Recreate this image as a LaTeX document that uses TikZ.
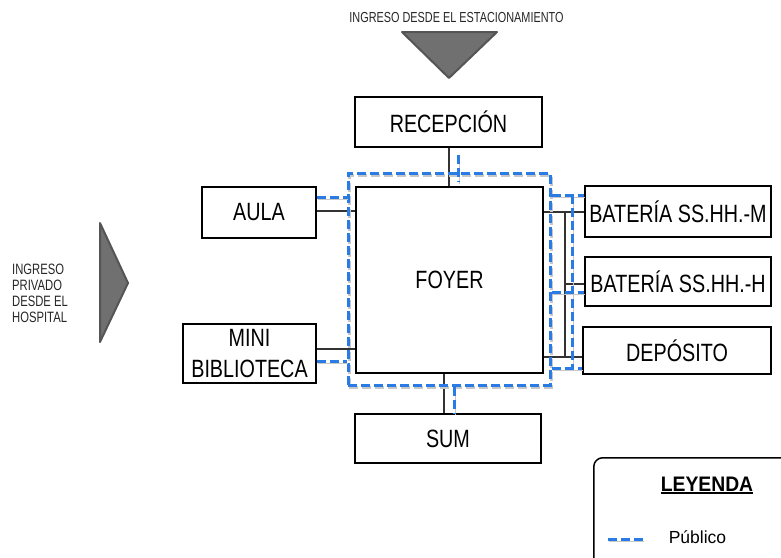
\documentclass[tikz,border=0pt]{standalone}
\usepackage{fontspec}
\setmainfont{Liberation Sans}
\newfontfamily\boxfont[FakeStretch=0.79]{Liberation Sans}
\newfontfamily\smallfont[FakeStretch=0.75]{Liberation Sans}
\newfontfamily\legfont[FakeStretch=0.92]{Liberation Sans}
\definecolor{pubblue}{HTML}{2B7BE4}
\definecolor{trifill}{HTML}{707070}
\definecolor{triedge}{HTML}{555555}
\definecolor{linkc}{HTML}{333333}
\begin{document}
\begin{tikzpicture}[x=1pt,y=-1pt,
  room/.style={draw=black, line width=1.5pt, fill=white, inner sep=0pt,
    font=\boxfont\fontsize{25}{31}\selectfont, align=center},
  link/.style={draw=linkc, line width=2pt},
  pub/.style={draw=pubblue, line width=3pt, dash pattern=on 9pt off 4pt,
    preaction={draw=black!22, transform canvas={xshift=1pt, yshift=-2pt}}},
  arrowtri/.style={fill=trifill, draw=triedge, line width=2pt, line join=round}]
\useasboundingbox (0,0) rectangle (781,557);

% entrance triangles
\draw[arrowtri] (402,32) -- (497,32) -- (449,78) -- cycle;
\draw[arrowtri] (100,223) -- (128,283) -- (100,342) -- cycle;

\node[font=\smallfont\fontsize{14.5}{16}\selectfont, text=black!85, inner sep=0pt] (ingtop) at (456.5,17.3) {INGRESO DESDE EL ESTACIONAMIENTO};
\node[font=\smallfont\fontsize{15}{16.2}\selectfont, text=black!85, align=left, inner sep=0pt, anchor=west] (ingleft) at (12,293.5) {INGRESO\\PRIVADO\\DESDE EL\\HOSPITAL};

% rooms
\node[room, minimum width=187pt, minimum height=50pt] (rec) at (448.5,122) {RECEPCIÓN};
\node[room, minimum width=187pt, minimum height=186pt] (foyer) at (449.5,280) {FOYER};
\node[room, minimum width=186pt, minimum height=49pt] (sum) at (448,438.5) {SUM};
\node[room, minimum width=114pt, minimum height=51pt] (aula) at (259,212.5) {AULA};
\node[room, minimum width=133pt, minimum height=59pt] (mini) at (249.5,353.5) {MINI\\BIBLIOTECA};
\node[room, minimum width=186pt, minimum height=51pt] (batm) at (678,211.5) {BATERÍA SS.HH.-M};
\node[room, minimum width=186pt, minimum height=49pt] (bath) at (678,281.5) {BATERÍA SS.HH.-H};
\node[room, minimum width=188pt, minimum height=47pt] (dep) at (677,350.5) {DEPÓSITO};

% helper levels
\coordinate (yaula) at (0,211);
\coordinate (yaulap) at (0,197);
\coordinate (ymini) at (0,349);
\coordinate (yminip) at (0,361);
\coordinate (ym) at (0,212);
\coordinate (ymp) at (0,195);
\coordinate (yh) at (0,284);
\coordinate (yhp) at (0,292);
\coordinate (yd) at (0,357);
\coordinate (ydp) at (0,368);
\coordinate (bus) at (565,0);
\coordinate (busp) at (572,0);
\coordinate (xsum) at (444,0);
\coordinate (xsump) at (454,0);
\coordinate (recp) at (458,155);

% black connectors
\draw[link] (rec.south) -- (rec.south |- foyer.north);
\draw[link] (xsum |- foyer.south) -- (xsum |- sum.north);
\draw[link] (aula.east |- yaula) -- (foyer.west |- yaula);
\draw[link] (mini.east |- ymini) -- (foyer.west |- ymini);
\draw[link] (foyer.east |- ym) -- (batm.west |- ym);
\draw[link] (bus |- ym) -- (bus |- yd);
\draw[link] (bus |- yh) -- (bath.west |- yh);
\draw[link] (foyer.east |- yd) -- (dep.west |- yd);

% public circulation
\node[pub, minimum width=202pt, minimum height=212pt, inner sep=0pt] (pubarea) at (449,279) {};
\draw[pub] (recp) -- ++(0,27);
\draw[pub] (aula.east |- yaulap) -- (pubarea.west |- yaulap);
\draw[pub] (mini.east |- yminip) -- (pubarea.west |- yminip);
\draw[pub] (xsump |- pubarea.south) -- (xsump |- sum.north);
\draw[pub] (pubarea.east |- ymp) -- (batm.west |- ymp);
\draw[pub] (busp |- ymp) -- (busp |- ydp);
\draw[pub] (pubarea.east |- yhp) -- (bath.west |- yhp);
\draw[pub] (pubarea.east |- ydp) -- (dep.west |- ydp);

% legend
\node[draw=black, line width=1.5pt, rounded corners=9pt, minimum width=210pt, minimum height=120pt, anchor=north west] (legend) at (593,457) {};
\node[font=\legfont\bfseries\fontsize{21}{24}\selectfont, inner sep=0pt, anchor=base] (leyenda) at (707,491) {LEYENDA};
\draw[line width=1.5pt] ([yshift=-2pt]leyenda.base west) -- ([yshift=-2pt]leyenda.base east);
\node[font=\fontsize{17.5}{20}\selectfont, inner sep=0pt, anchor=base] (publico) at (697.5,543) {Público};
\coordinate (legs) at (608,539);
\draw[pub] (legs) -- ++(35,0);
\end{tikzpicture}
\end{document}
